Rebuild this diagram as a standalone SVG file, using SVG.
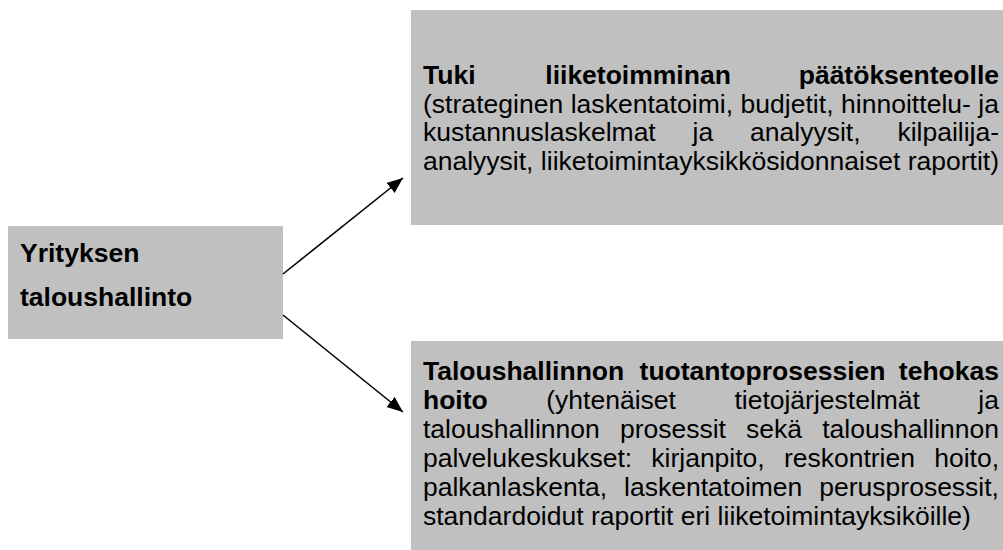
<svg xmlns="http://www.w3.org/2000/svg" width="1003" height="550" viewBox="0 0 1003 550">
  <style>
    .box { fill: #C0C0C0; }
    .t { font-family: "Liberation Sans", Arial, sans-serif; font-size: 26.5px; fill: #000; }
    .b { font-weight: bold; }
    .e { text-anchor: end; }
    .conn { stroke: #000; stroke-width: 1.6; fill: none; }
  </style>
  <defs>
    <marker id="arrow" markerUnits="userSpaceOnUse" markerWidth="18" markerHeight="14" refX="16" refY="6.5" orient="auto">
      <path d="M0,0 L16,6.5 L0,13 Z" fill="#000"/>
    </marker>
  </defs>
  <rect width="1003" height="550" fill="#fff"/>

  <g id="node-yritys">
    <rect class="box" x="8" y="226" width="275" height="113"/>
    <text class="t b" x="20" y="262">Yrityksen</text>
    <text class="t b" x="20" y="306">taloushallinto</text>
  </g>

  <g id="node-tuki">
    <rect class="box" x="411" y="10" width="592" height="215"/>
    <text class="t b" x="423" y="84">Tuki</text>
    <text class="t b" x="545.3" y="84">liiketoimminan</text>
    <text class="t b e" x="999" y="84">päätöksenteolle</text>
    <text class="t" x="423" y="112.7" textLength="576" lengthAdjust="spacing">(strateginen laskentatoimi, budjetit, hinnoittelu- ja</text>
    <text class="t" x="423" y="141.4">kustannuslaskelmat</text>
    <text class="t" x="692.6" y="141.4">ja</text>
    <text class="t" x="750.1" y="141.4">analyysit,</text>
    <text class="t e" x="999" y="141.4">kilpailija-</text>
    <text class="t" x="423" y="170" textLength="576" lengthAdjust="spacing">analyysit, liiketoimintayksikkösidonnaiset raportit)</text>
  </g>

  <g id="node-tuotanto">
    <rect class="box" x="411" y="341" width="592" height="209"/>
    <text class="t b" x="423" y="380">Taloushallinnon</text>
    <text class="t b" x="639.6" y="380">tuotantoprosessien</text>
    <text class="t b e" x="999" y="380">tehokas</text>
    <text class="t b" x="423" y="409">hoito</text>
    <text class="t" x="546.3" y="409">(yhtenäiset</text>
    <text class="t" x="734.4" y="409">tietojärjestelmät</text>
    <text class="t e" x="999" y="409">ja</text>
    <text class="t" x="423" y="438">taloushallinnon</text>
    <text class="t" x="619.9" y="438">prosessit</text>
    <text class="t" x="746" y="438">sekä</text>
    <text class="t e" x="999" y="438">taloushallinnon</text>
    <text class="t" x="423" y="467">palvelukeskukset:</text>
    <text class="t" x="651.3" y="467">kirjanpito,</text>
    <text class="t" x="783.9" y="467">reskontrien</text>
    <text class="t e" x="999" y="467">hoito,</text>
    <text class="t" x="423" y="496">palkanlaskenta,</text>
    <text class="t" x="624.1" y="496">laskentatoimen</text>
    <text class="t e" x="999" y="496">perusprosessit,</text>
    <text class="t" x="423" y="525">standardoidut raportit eri liiketoimintayksiköille)</text>
  </g>

  <g id="connectors">
    <line class="conn" x1="283" y1="274" x2="403" y2="178" marker-end="url(#arrow)"/>
    <line class="conn" x1="283" y1="315" x2="403" y2="412" marker-end="url(#arrow)"/>
  </g>
</svg>
